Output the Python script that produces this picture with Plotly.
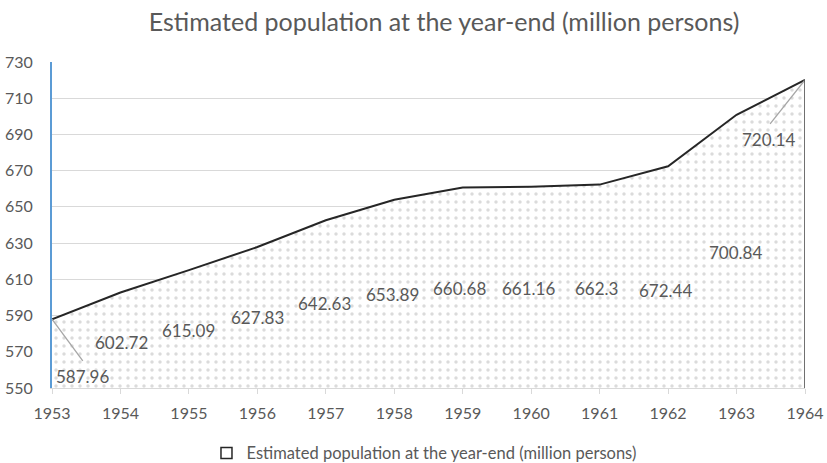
import plotly.graph_objects as go

years = [1953, 1954, 1955, 1956, 1957, 1958, 1959, 1960, 1961, 1962, 1963, 1964]
population = [587.96, 602.72, 615.09, 627.83, 642.63, 653.89, 660.68, 661.16, 662.3, 672.44, 700.84, 720.14]
label_text = ["587.96", "602.72", "615.09", "627.83", "642.63", "653.89", "660.68", "661.16", "662.3", "672.44", "700.84", "720.14"]
# label positions (data coords)
label_x = [1953.45, 1954.02, 1955.0, 1956.0, 1956.98, 1957.98, 1958.96, 1959.96, 1960.96, 1961.96, 1962.98, 1963.46]
label_y = [556.1, 575.4, 582.0, 588.7, 596.4, 601.9, 604.7, 604.7, 605.2, 604.1, 624.6, 687.0]

title = "Estimated population at the year-end (million persons)"
gray = "#595959"
FONT = "Lato"

fig = go.Figure()
fig.add_trace(go.Scatter(
    x=years, y=population, mode="lines", name=title,
    line=dict(color="#262626", width=2),
    fill="tozeroy", fillcolor="rgba(255,255,255,0)",
    fillpattern=dict(shape=".", fgcolor="#b8b8b8", bgcolor="white", size=8, solidity=0.15),
    showlegend=False,
))
# legend entry (square swatch)
fig.add_trace(go.Scatter(
    x=[None], y=[None], mode="markers", name=title,
    marker=dict(symbol="square", size=11, color="white", line=dict(color="#262626", width=1.5)),
    showlegend=True,
))

for x, y, t in zip(label_x, label_y, label_text):
    fig.add_annotation(x=x, y=y, text=t, showarrow=False,
                       font=dict(family=FONT, size=17, color=gray))

# leader lines
fig.add_shape(type="line", x0=years[0], y0=population[0], x1=1953.45, y1=565.0,
              line=dict(color="#a6a6a6", width=1.3))
fig.add_shape(type="line", x0=years[-1], y0=population[-1], x1=1963.49, y1=695.8,
              line=dict(color="#a6a6a6", width=1.3))
# right border of area
fig.add_shape(type="line", x0=years[-1], y0=550, x1=years[-1], y1=population[-1],
              line=dict(color="#404040", width=1.5))

fig.update_layout(
    width=827, height=463,
    margin=dict(l=52, r=22, t=62, b=75, autoexpand=False),
    paper_bgcolor="white", plot_bgcolor="white",
    title=dict(text=title, x=0.537, xanchor="center", y=0.952, yanchor="middle",
               font=dict(family=FONT, size=25, color=gray)),
    font=dict(family=FONT, color=gray),
    xaxis=dict(range=[1953, 1964], tickmode="array", tickvals=years,
               ticktext=[str(y) for y in years], tickfont=dict(family=FONT, size=16, color=gray),
               showgrid=False, showline=True, linecolor="#d9d9d9", linewidth=1,
               ticks="outside", ticklen=5, tickcolor="#d9d9d9", zeroline=False,
               ticklabelstandoff=6, automargin=False),
    yaxis=dict(range=[550, 730], tickmode="array", tickvals=list(range(550, 731, 20)),
               tickfont=dict(family=FONT, size=16, color=gray), showgrid=True, gridcolor="#d9d9d9",
               gridwidth=1, showline=True, linecolor="#5b9bd5", linewidth=2,
               ticks="", zeroline=False, ticklabelstandoff=14, automargin=False),
    legend=dict(orientation="h", x=0.494, xanchor="center", y=-0.2, yanchor="middle",
                font=dict(family=FONT, size=16.5, color=gray), itemwidth=30),
)

fig.write_html("out.html")
